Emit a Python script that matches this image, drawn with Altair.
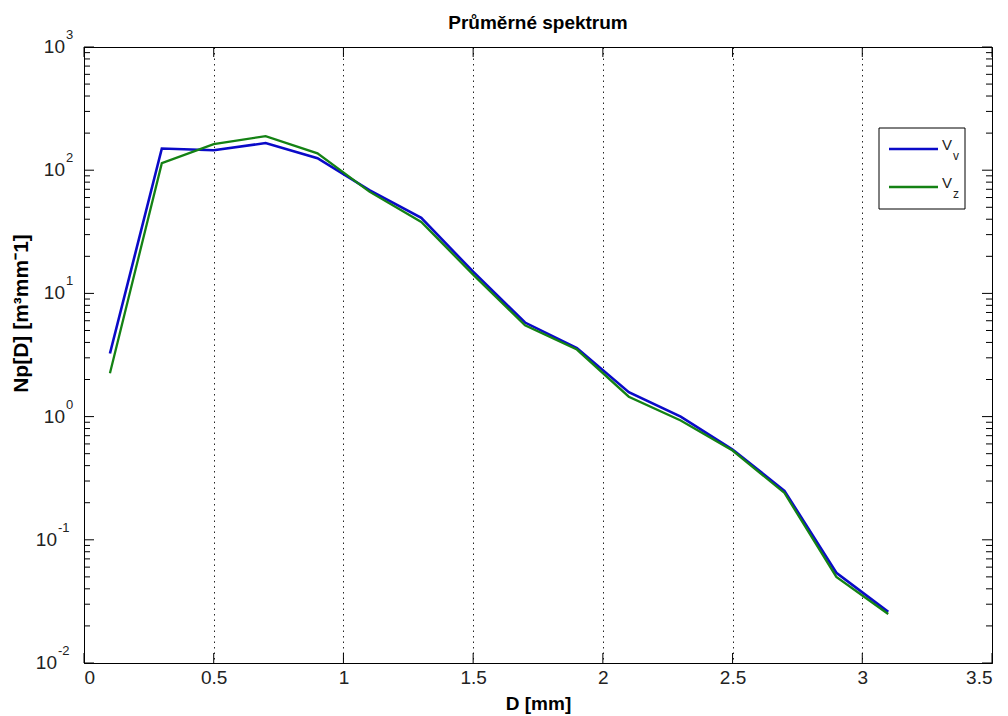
import altair as alt
import pandas as pd

# ---- data ----
D = [0.1, 0.3, 0.5, 0.7, 0.9, 1.1, 1.3, 1.5, 1.7, 1.9, 2.1, 2.3, 2.5, 2.7, 2.9, 3.1]
Vv = [3.25, 150, 145, 166, 125, 69, 41, 15, 5.8, 3.6, 1.58, 1.0, 0.54, 0.25, 0.054, 0.026]
Vz = [2.25, 114, 163, 189, 137, 67, 38, 14.2, 5.5, 3.5, 1.45, 0.93, 0.53, 0.24, 0.050, 0.025]

series_names = ["V", "V"]
series_subs = ["v", "z"]
series_colors = ["#0a0ac8", "#148214"]

x_ticks = [0, 0.5, 1, 1.5, 2, 2.5, 3, 3.5]
y_exponents = [-2, -1, 0, 1, 2, 3]

title_text = "Průměrné spektrum"
x_title = "D [mm]"
y_title = "Np[D] [m³mm⁻1]"

FONT = "Liberation Sans"
W, H = 908, 616

# ---- tables ----
df_v = pd.DataFrame({"D": D, "N": Vv})
df_z = pd.DataFrame({"D": D, "N": Vz})
df_xt = pd.DataFrame({"D": x_ticks})
df_major = pd.DataFrame({"N": [10.0 ** e for e in y_exponents]})
df_minor = pd.DataFrame({"N": [k * 10.0 ** e for e in y_exponents[:-1] for k in range(2, 10)]})
df_ylab_pos = pd.DataFrame({"N": [10.0 ** e for e in y_exponents if e >= 0],
                            "e": [str(e) for e in y_exponents if e >= 0]})
df_ylab_neg = pd.DataFrame({"N": [10.0 ** e for e in y_exponents if e < 0],
                            "e": [str(e) for e in y_exponents if e < 0]})
one = pd.DataFrame({"t": [title_text]})

xscale = alt.Scale(domain=[0, 3.5], nice=False, zero=False)
yscale = alt.Scale(type="log", domain=[0.01, 1000], nice=False)

xaxis = alt.Axis(values=x_ticks, format="~g", title=x_title, grid=True,
                 gridDash=[1.5, 4], gridColor="#000000", gridOpacity=0.85, gridWidth=1,
                 ticks=False, domain=True, domainColor="#000000",
                 labelFont=FONT, labelFontSize=19, labelColor="#222222", labelPadding=5,
                 titleFont=FONT, titleFontSize=19, titleFontWeight="bold",
                 titleColor="#000000", titlePadding=7)
yaxis = alt.Axis(labels=False, ticks=False, grid=False, domain=True, domainColor="#000000",
                 title=y_title, titleFont=FONT, titleFontSize=21, titleFontWeight="bold",
                 titleColor="#000000", titleAngle=-90, titleX=-63, titleY=266,
                 titleAlign="center", titleBaseline="middle")

X = alt.X("D:Q", scale=xscale, axis=xaxis)
Y = alt.Y("N:Q", scale=yscale, axis=yaxis)

line_v = alt.Chart(df_v).mark_line(color=series_colors[0], strokeWidth=2.6).encode(x=X, y=Y)
line_z = alt.Chart(df_z).mark_line(color=series_colors[1], strokeWidth=2.3).encode(x=X, y=Y)

# inward ticks (MATLAB style)
xt_bottom = alt.Chart(df_xt).mark_rule(color="black", strokeWidth=1).encode(
    x=X, y=alt.value(H - 10), y2=alt.value(H))
xt_top = alt.Chart(df_xt).mark_rule(color="black", strokeWidth=1).encode(
    x=X, y=alt.value(0), y2=alt.value(10))

def ytick(df, x0, x1):
    return alt.Chart(df).mark_rule(color="black", strokeWidth=1).encode(
        y=Y, x=alt.value(x0), x2=alt.value(x1))

yt = [ytick(df_major, 0, 10), ytick(df_major, W - 10, W),
      ytick(df_minor, 0, 6), ytick(df_minor, W - 6, W)]

# y tick labels 10^e
def ylabels(df, xten, xexp):
    base = alt.Chart(df).mark_text(font=FONT, fontSize=19, color="#222222",
                                   align="right", baseline="middle").encode(
        y=Y, x=alt.value(xten), text=alt.value("10"))
    expo = alt.Chart(df).mark_text(font=FONT, fontSize=13, color="#222222",
                                   align="left", baseline="middle", dy=-12).encode(
        y=Y, x=alt.value(xexp), text="e:N")
    return [base, expo]

ylab = ylabels(df_ylab_pos, -19, -18) + ylabels(df_ylab_neg, -27, -26)

# title as text
title_mark = alt.Chart(one).mark_text(font=FONT, fontSize=19, fontWeight="bold",
                                      color="#000000", align="center",
                                      baseline="alphabetic").encode(
    x=alt.value(W / 2), y=alt.value(-18), text="t:N")

# legend box
leg_box = alt.Chart(one).mark_rect(fill="white", stroke="black", strokeWidth=1).encode(
    x=alt.value(795), x2=alt.value(881), y=alt.value(81), y2=alt.value(162))
leg = [leg_box]
for i in range(2):
    yy = 102 + 38 * i
    row = pd.DataFrame({"name": [series_names[i]], "sub": [series_subs[i]]})
    leg.append(alt.Chart(row).mark_rule(color=series_colors[i], strokeWidth=2.6).encode(
        x=alt.value(805), x2=alt.value(854), y=alt.value(yy)))
    leg.append(alt.Chart(row).mark_text(font=FONT, fontSize=15, color="#222222",
                                         align="left", baseline="middle").encode(
        x=alt.value(858), y=alt.value(yy - 4), text="name:N"))
    leg.append(alt.Chart(row).mark_text(font=FONT, fontSize=12, color="#222222",
                                         align="left", baseline="middle").encode(
        x=alt.value(869), y=alt.value(yy + 7), text="sub:N"))

chart = alt.layer(line_v, line_z, xt_bottom, xt_top, *yt, *ylab, title_mark, *leg).properties(
    width=W, height=H,
    autosize=alt.AutoSizeParams(type="none"),
    padding={"left": 76, "top": 39, "right": 8, "bottom": 53},
).configure_view(stroke="black", strokeWidth=1)

chart.save("out.html", embed_options={"renderer": "svg", "actions": False})
